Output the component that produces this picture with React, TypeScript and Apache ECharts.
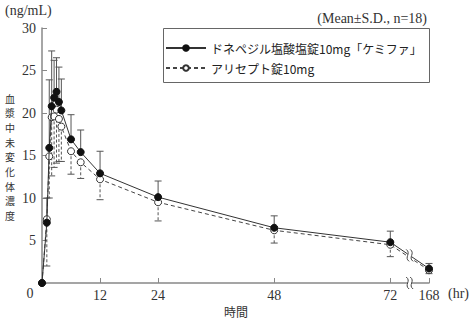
import React, { useEffect, useRef } from "react";
import * as echarts from "echarts";

// ---- data (hours after dosing) ----
const times = [0, 1, 1.5, 2, 2.5, 3, 3.5, 4, 6, 8, 12, 24, 48, 72, 168];
const kemifaName = "ドネペジル塩酸塩錠10mg「ケミファ」";
const kemifaMean = [0, 7.1, 15.9, 20.8, 21.8, 22.5, 21.3, 20.3, 16.9, 15.4, 12.9, 10.1, 6.5, 4.8, 1.7];
const kemifaSD = [0, 2.9, 8.0, 6.5, 4.4, 4.0, 4.1, 3.7, 2.9, 2.6, 2.6, 1.9, 1.4, 1.3, 0.6];
const ariceptName = "アリセプト錠10mg";
const ariceptMean = [0, 7.5, 14.9, 19.5, 19.6, 20.4, 19.3, 18.4, 15.5, 14.2, 12.2, 9.5, 6.2, 4.5, 1.5];
const ariceptSD = [0, 5.5, 4.9, 6.9, 6.0, 6.3, 5.0, 4.1, 2.7, 1.9, 2.4, 2.2, 1.5, 1.4, 0.4];
const xTickHours = [12, 24, 48, 72, 168];
const yAxisTitle = "血漿中未変化体濃度";

// broken x-axis: 72 -> 168 is squeezed into 8 axis units
const BREAK_START = 72;
const BREAK_END = 168;
const BREAK_SPAN = 8;
const toAxis = (t: number) =>
  t <= BREAK_START ? t : BREAK_START + ((t - BREAK_START) / (BREAK_END - BREAK_START)) * BREAK_SPAN;
const BREAK_MARK = BREAK_START + BREAK_SPAN / 2;

const serif = "'Liberation Serif', 'DejaVu Serif', serif";
const jp = "'Noto Sans CJK JP', sans-serif";

export default function App() {
  const ref = useRef<HTMLDivElement>(null);
  useEffect(() => {
    document.body.style.margin = "0";
    if (!ref.current) return;
    const chart = echarts.init(ref.current, null, { renderer: "svg" });

    const kemifaData = times.map((t, i) => [toAxis(t), kemifaMean[i]]);
    const ariceptData = times.map((t, i) => [toAxis(t), ariceptMean[i]]);
    const kemifaErr = times
      .map((t, i) => [toAxis(t), kemifaMean[i], kemifaMean[i] + kemifaSD[i]])
      .filter((d, i) => kemifaSD[i] > 0);
    const ariceptErr = times
      .map((t, i) => [toAxis(t), ariceptMean[i], ariceptMean[i] - ariceptSD[i]])
      .filter((d, i) => ariceptSD[i] > 0);

    const i72 = times.indexOf(BREAK_START);
    const i168 = times.indexOf(BREAK_END);
    const lineAtBreak =
      kemifaMean[i72] + ((kemifaMean[i168] - kemifaMean[i72]) * (BREAK_MARK - BREAK_START)) / BREAK_SPAN;
    const breakMarks = [
      [BREAK_MARK, 0],
      [BREAK_MARK, lineAtBreak],
    ];

    const errRender = (dashed: boolean) => (params: any, api: any) => {
      const x = api.value(0);
      const p1 = api.coord([x, api.value(1)]);
      const p2 = api.coord([x, api.value(2)]);
      const w = 3.5;
      return {
        type: "group",
        children: [
          {
            type: "line",
            shape: { x1: p1[0], y1: p1[1], x2: p2[0], y2: p2[1] },
            style: { stroke: "#555", lineWidth: 1, lineDash: dashed ? [3, 2] : null },
          },
          {
            type: "line",
            shape: { x1: p2[0] - w, y1: p2[1], x2: p2[0] + w, y2: p2[1] },
            style: { stroke: "#555", lineWidth: 1 },
          },
        ],
      };
    };

    const breakRender = (params: any, api: any) => {
      const p = api.coord([api.value(0), api.value(1)]);
      const curves = [-2, 2].map((dx) => ({
        type: "bezierCurve",
        shape: {
          x1: p[0] + dx - 1.5,
          y1: p[1] - 6,
          x2: p[0] + dx + 1.5,
          y2: p[1] + 6,
          cpx1: p[0] + dx + 4,
          cpy1: p[1] - 2,
          cpx2: p[0] + dx - 4,
          cpy2: p[1] + 2,
        },
        style: { stroke: "#444", fill: null, lineWidth: 1 },
      }));
      return {
        type: "group",
        children: [
          {
            type: "rect",
            shape: { x: p[0] - 2, y: p[1] - 4, width: 4, height: 8 },
            style: { fill: "#fff" },
          },
          ...curves,
        ],
      };
    };

    const titleChars = Array.from(yAxisTitle).map((ch, i) => ({
      type: "text",
      x: 10,
      y: 98 + i * 14.7,
      style: {
        text: ch,
        font: `10px ${jp}`,
        fill: "#333",
        textAlign: "center",
        textVerticalAlign: "middle",
      },
    }));

    const option: any = {
      animation: false,
      backgroundColor: "#fff",
      grid: { left: 42, right: 46, top: 28, bottom: 39, containLabel: false, outerBoundsMode: "none" },
      xAxis: {
        type: "value",
        min: 0,
        max: toAxis(BREAK_END),
        axisLine: { lineStyle: { color: "#888", width: 1.5 } },
        axisTick: {
          inside: true,
          length: 5,
          customValues: xTickHours.map(toAxis),
          lineStyle: { color: "#888" },
        },
        axisLabel: {
          customValues: xTickHours.map(toAxis),
          formatter: (v: number) => {
            const h = xTickHours.find((t) => Math.abs(toAxis(t) - v) < 1e-6);
            return h === undefined ? "" : String(h);
          },
          color: "#333",
          fontFamily: serif,
          fontSize: 14,
          margin: 5,
        },
        splitLine: { show: false },
      },
      yAxis: {
        type: "value",
        min: 0,
        max: 30,
        interval: 5,
        axisLine: { show: true, lineStyle: { color: "#888", width: 1.5 } },
        axisTick: { show: true, inside: true, length: 5, lineStyle: { color: "#888" } },
        axisLabel: {
          formatter: (v: number) => (v === 0 ? "" : String(v)),
          color: "#333",
          fontFamily: serif,
          fontSize: 14,
          margin: 6,
        },
        splitLine: { show: false },
      },
      legend: {
        data: [kemifaName, ariceptName],
        orient: "vertical",
        left: 160,
        top: 36,
        itemWidth: 40,
        itemHeight: 7,
        itemGap: 6,
        textStyle: { fontFamily: jp, fontSize: 12, color: "#222", lineHeight: 14 },
        selectedMode: false,
      },
      graphic: [
        {
          type: "rect",
          shape: { x: 163.5, y: 28.5, width: 266, height: 54 },
          style: { fill: "none", stroke: "#666", lineWidth: 1 },
          z: 0,
        },
        {
          type: "text",
          x: 5,
          y: 10,
          style: { text: "(ng/mL)", font: `14px ${serif}`, fill: "#333", textVerticalAlign: "middle" },
        },
        {
          type: "text",
          x: 427,
          y: 18,
          style: {
            text: "(Mean±S.D., n=18)",
            font: `14px ${serif}`,
            fill: "#333",
            textAlign: "right",
            textVerticalAlign: "middle",
          },
        },
        {
          type: "text",
          x: 30,
          y: 293,
          style: { text: "0", font: `14px ${serif}`, fill: "#333", textAlign: "center", textVerticalAlign: "middle" },
        },
        {
          type: "text",
          x: 448,
          y: 293,
          style: { text: "(hr)", font: `14px ${serif}`, fill: "#333", textVerticalAlign: "middle" },
        },
        {
          type: "text",
          x: 236,
          y: 311,
          style: { text: "時間", font: `12px ${jp}`, fill: "#333", textAlign: "center", textVerticalAlign: "middle" },
        },
        ...titleChars,
      ],
      series: [
        {
          type: "custom",
          name: "kemifaErr",
          data: kemifaErr,
          renderItem: errRender(false),
          z: 1,
          clip: false,
          silent: true,
        },
        {
          type: "custom",
          name: "ariceptErr",
          data: ariceptErr,
          renderItem: errRender(true),
          z: 1,
          clip: false,
          silent: true,
        },
        {
          type: "line",
          name: ariceptName,
          data: ariceptData,
          symbol: "circle",
          symbolSize: 7,
          showAllSymbol: true,
          lineStyle: { color: "#444", width: 1, type: [4, 3] },
          itemStyle: { color: "#fff", borderColor: "#333", borderWidth: 1 },
          z: 2,
          clip: false,
        },
        {
          type: "line",
          name: kemifaName,
          data: kemifaData,
          symbol: "circle",
          symbolSize: 7,
          showAllSymbol: true,
          lineStyle: { color: "#333", width: 1 },
          itemStyle: { color: "#111", borderColor: "#111", borderWidth: 1 },
          z: 3,
          clip: false,
        },
        {
          type: "custom",
          name: "breaks",
          data: breakMarks,
          renderItem: breakRender,
          z: 5,
          clip: false,
          silent: true,
        },
      ],
    };
    chart.setOption(option);
    return () => chart.dispose();
  }, []);
  return <div ref={ref} style={{ width: 475, height: 322 }} />;
}
